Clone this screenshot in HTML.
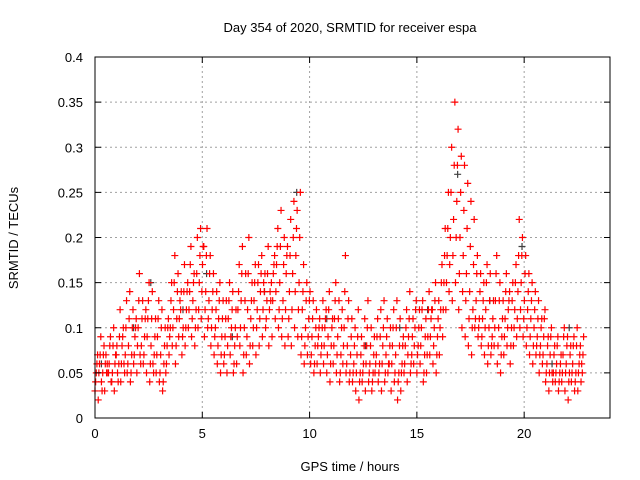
<!DOCTYPE html>
<html><head><meta charset="utf-8"><style>
body{margin:0;background:#fff}
svg{display:block;font-family:"Liberation Sans",sans-serif}
</style></head><body>
<svg id="chart" width="640" height="480" viewBox="0 0 640 480">
<text x="350" y="32" font-size="13" text-anchor="middle">Day 354 of 2020, SRMTID for receiver espa</text>
<text x="350" y="471" font-size="13" text-anchor="middle">GPS time / hours</text>
<text transform="translate(18,238) rotate(-90)" font-size="13" text-anchor="middle">SRMTID / TECUs</text>
<g id="grid"></g>
<g id="marks"></g>
<rect x="95" y="57" width="515" height="361" fill="none" stroke="#000" stroke-width="1"/>
<g id="axes"></g>
</svg>
<script>
const xTicks=[0,5,10,15,20];
const yTicks=[0,0.05,0.1,0.15,0.2,0.25,0.3,0.35,0.4];
const yTickLabels=["0","0.05","0.1","0.15","0.2","0.25","0.3","0.35","0.4"];
const timeStart=0, timeStep=0.15;
const srmtidLow=[.03,.02,.04,.03,.05,.04,.03,.05,.04,.06,
.05,.04,.06,.05,.07,.06,.05,.04,.06,.05,
.04,.03,.05,.07,.08,.06,.09,.07,.08,.10,
.09,.08,.10,.11,.09,.10,.08,.07,.06,.05,
.06,.05,.07,.05,.06,.08,.05,.07,.06,.08,
.07,.08,.09,.10,.08,.09,.11,.10,.09,.08,
.09,.08,.10,.09,.07,.06,.07,.06,.05,.06,
.05,.06,.05,.04,.06,.05,.04,.06,.05,.04,
.04,.03,.02,.04,.03,.04,.03,.05,.04,.03,
.04,.05,.03,.04,.02,.03,.05,.04,.05,.06,
.05,.06,.04,.05,.07,.06,.05,.07,.09,.12,
.14,.13,.15,.12,.10,.09,.08,.07,.10,.09,
.08,.07,.06,.07,.08,.06,.05,.07,.08,.06,
.08,.09,.10,.09,.08,.07,.06,.07,.05,.06,
.04,.03,.05,.04,.03,.04,.03,.02,.04,.03,
.03,.04];
const srmtidLowerMid=[.04,.05,.03,.06,.05,.04,.06,.04,.06,.05,
.06,.05,.07,.08,.06,.07,.09,.06,.05,.07,
.05,.04,.06,.09,.10,.08,.11,.09,.10,.12,
.11,.10,.12,.14,.12,.11,.10,.09,.08,.07,
.07,.08,.09,.06,.09,.10,.07,.09,.08,.10,
.10,.11,.12,.11,.12,.13,.14,.12,.11,.12,
.11,.12,.14,.12,.09,.08,.09,.07,.06,.08,
.07,.08,.07,.06,.08,.07,.05,.08,.06,.05,
.05,.05,.04,.05,.06,.05,.04,.06,.05,.06,
.05,.06,.06,.05,.04,.05,.06,.07,.06,.08,
.07,.08,.05,.07,.09,.08,.07,.10,.12,.15,
.17,.18,.20,.16,.14,.13,.11,.10,.11,.10,
.09,.10,.08,.08,.10,.08,.07,.09,.10,.08,
.10,.11,.12,.11,.10,.09,.08,.08,.07,.07,
.05,.05,.04,.05,.04,.05,.05,.04,.05,.04,
.05,.06];
const srmtidMid=[.05,.06,.05,.07,.06,.05,.07,.06,.08,.07,
.08,.07,.09,.10,.08,.09,.11,.08,.07,.09,
.07,.06,.08,.10,.12,.11,.13,.10,.12,.14,
.13,.12,.15,.17,.14,.13,.12,.10,.11,.09,
.09,.11,.10,.08,.12,.13,.10,.12,.11,.13,
.12,.14,.15,.13,.14,.16,.17,.15,.13,.16,
.14,.16,.18,.15,.12,.10,.11,.09,.08,.09,
.08,.10,.09,.08,.11,.09,.07,.10,.08,.07,
.06,.07,.05,.06,.08,.06,.05,.07,.06,.08,
.07,.06,.08,.07,.05,.06,.08,.09,.07,.10,
.08,.10,.07,.09,.11,.10,.09,.12,.15,.18,
.20,.22,.24,.20,.18,.16,.14,.12,.13,.11,
.11,.12,.10,.09,.13,.10,.09,.11,.12,.10,
.12,.14,.15,.13,.12,.11,.10,.09,.08,.09,
.06,.07,.05,.06,.05,.07,.06,.05,.06,.05,
.06,.05];
const srmtidUpperMid=[.06,.07,.07,.05,.08,.08,.07,.09,.09,.10,
.11,.10,.10,.13,.11,.11,.13,.11,.09,.11,
.10,.08,.10,.13,.15,.14,.12,.14,.14,.17,
.15,.16,.18,.19,.18,.16,.14,.12,.13,.11,
.11,.13,.12,.10,.14,.16,.13,.16,.13,.15,
.15,.16,.14,.16,.13,.17,.19,.19,.17,.18,
.18,.20,.21,.20,.14,.13,.13,.11,.10,.10,
.10,.11,.12,.10,.13,.11,.10,.14,.11,.09,
.08,.09,.07,.08,.10,.08,.07,.09,.09,.10,
.09,.08,.10,.10,.08,.08,.10,.11,.09,.12,
.10,.12,.09,.12,.12,.13,.11,.15,.18,.21,
.25,.28,.28,.25,.23,.21,.19,.17,.16,.14,
.13,.15,.13,.11,.16,.13,.11,.14,.13,.13,
.15,.18,.18,.16,.14,.13,.12,.11,.10,.11,
.08,.09,.07,.08,.06,.09,.08,.07,.08,.08,
.07,.07];
const srmtidHigh=[.07,.09,.08,.06,.09,.10,.08,.12,.10,.13,
.14,.12,.11,.16,.13,.12,.15,.14,.11,.13,
.12,.10,.11,.15,.18,.16,.14,.17,.15,.19,
.16,.20,.21,.19,.21,.18,.16,.14,.15,.13,
.13,.15,.14,.12,.17,.19,.16,.20,.15,.17,
.17,.18,.16,.19,.15,.18,.21,.23,.20,.19,
.22,.24,.23,.25,.17,.15,.14,.13,.12,.11,
.13,.12,.14,.11,.15,.13,.12,.18,.13,.11,
.10,.12,.09,.11,.13,.10,.09,.11,.12,.13,
.11,.10,.12,.13,.11,.09,.12,.14,.11,.13,
.12,.13,.11,.14,.12,.15,.13,.17,.21,.25,
.30,.35,.32,.29,.28,.26,.24,.22,.18,.16,
.15,.17,.16,.13,.18,.15,.13,.16,.14,.15,
.17,.22,.20,.18,.16,.15,.14,.13,.11,.12,
.09,.10,.08,.09,.07,.10,.09,.08,.09,.10,
.08,.09];
const grayTimes=[0.3,1.8,2.6,4.1,5.2,6.4,7.9,9.4,10.8,12.6,14.2,15.5,16.9,18.4,19.9,21.3,22.1];
const grayValues=[0.06,0.10,0.15,0.12,0.16,0.09,0.14,0.25,0.11,0.08,0.10,0.12,0.27,0.13,0.19,0.06,0.10];

const X0=95,X1=610,Y0=418,Y1=57,XMAX=24,YMAX=0.4;
const xs=v=>X0+(X1-X0)*v/XMAX;
const ys=v=>Y0-(Y0-Y1)*v/YMAX;
const NS="http://www.w3.org/2000/svg";
const grid=document.getElementById('grid'),axes=document.getElementById('axes'),marks=document.getElementById('marks');
function mk(tag,attrs,parent){const e=document.createElementNS(NS,tag);for(const k in attrs)e.setAttribute(k,attrs[k]);parent.appendChild(e);return e;}
xTicks.forEach(t=>{const x=xs(t);
 if(t>0){const g=mk('line',{x1:x,x2:x,y1:Y0,y2:Y1,stroke:'#a0a0a0','stroke-dasharray':'2,3'},grid);
 
 }
 mk('line',{x1:x,x2:x,y1:Y0,y2:Y0-6,stroke:'#000'},axes);
 mk('line',{x1:x,x2:x,y1:Y1,y2:Y1+6,stroke:'#000'},axes);
 const l=mk('text',{x:x,y:Y0+20,'font-size':13,'text-anchor':'middle'},axes);l.textContent=t;
 
 
});
yTicks.forEach((t,i)=>{const y=ys(t);
 if(t>0&&t<YMAX){const g=mk('line',{x1:X0,x2:X1,y1:y,y2:y,stroke:'#a0a0a0','stroke-dasharray':'2,3'},grid);
 
 }
 mk('line',{x1:X0,x2:X0+6,y1:y,y2:y,stroke:'#000'},axes);
 mk('line',{x1:X1,x2:X1-6,y1:y,y2:y,stroke:'#000'},axes);
 const l=mk('text',{x:X0-12,y:y+5,'font-size':13,'text-anchor':'end'},axes);l.textContent=yTickLabels[i];
 
 
});
function plus(t,v,color){const x=xs(t),y=ys(v);
 const p=mk('path',{d:`M${x-3.5},${y}H${x+3.5}M${x},${y-3.5}V${y+3.5}`,stroke:color,'stroke-width':1.2,fill:'none'},marks);
 
 
}
grayTimes.forEach((t,i)=>plus(t,grayValues[i],'#404040'));
[srmtidLow,srmtidLowerMid,srmtidMid,srmtidUpperMid,srmtidHigh].forEach((arr,k)=>{
 arr.forEach((v,i)=>{const t=timeStart+i*timeStep+k*0.03;plus(t,v,'#ff0000');});
});
</script>
</body></html>
